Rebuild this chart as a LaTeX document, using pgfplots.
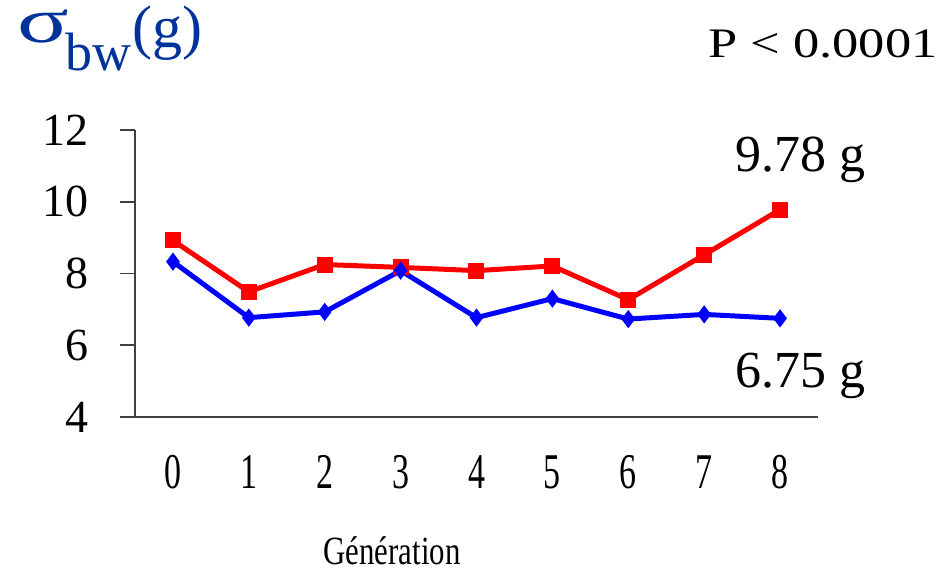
\documentclass[border=0pt]{standalone}
\usepackage{pgfplots}
\pgfplotsset{compat=1.18}
\usepackage{fontspec}
\setmainfont{Liberation Serif}
\usepackage{graphicx}
\definecolor{titleblue}{HTML}{003399}
\definecolor{axisgray}{HTML}{404040}
\begin{document}
\begin{tikzpicture}
\path[use as bounding box] (0pt,0pt) rectangle (943pt,-572pt);
\begin{axis}[
  at={(135pt,-417pt)}, anchor=south west,
  scale only axis, width=683pt, height=287pt,
  xmin=-0.5, xmax=8.5, ymin=4, ymax=12,
  axis x line=bottom, axis y line=left,
  axis line style={-, line width=1.6pt, axisgray},
  x axis line style={-}, y axis line style={-},
  xtick={0,1,2,3,4,5,6,7,8},
  xtick style={draw=none},
  ytick={4,6,8,10,12},
  tick align=outside,
  major tick length=15pt,
  ytick style={line width=1.6pt, axisgray},
  /pgf/number format/assume math mode=true,
  yticklabel style={font=\fontsize{46}{50}\selectfont, xshift=-28pt},
  xticklabel style={font=\fontsize{50}{54}\selectfont, yshift=-20pt},
  xticklabel={\scalebox{0.68}[1]{\pgfmathprintnumber{\tick}}},
  clip=false,
]
\addplot[color=red, line width=5pt, mark=square*, mark size=5.5pt, mark options={solid}]
coordinates {(0,8.92) (1,7.49) (2,8.25) (3,8.17) (4,8.08) (5,8.21) (6,7.27) (7,8.52) (8,9.78)};
\addplot[color=blue, line width=5pt, mark=diamond*, mark size=5pt, mark options={solid}]
coordinates {(0,8.33) (1,6.77) (2,6.93) (3,8.08) (4,6.77) (5,7.30) (6,6.73) (7,6.86) (8,6.75)};
\end{axis}
\node[anchor=base west, inner sep=0pt, text height=28pt, text=titleblue, font=\fontsize{44}{48}\selectfont] at (17pt,-43pt) {\scalebox{2.18}[1.45]{σ}};
\node[anchor=base west, inner sep=0pt, text height=30pt, text=titleblue, font=\fontsize{54}{60}\selectfont] at (65pt,-71pt) {bw};
\node[anchor=base west, inner sep=0pt, text height=30pt, text depth=10pt, text=titleblue, font=\fontsize{60}{66}\selectfont] at (132pt,-48pt) {(g)};
\node[anchor=base west, inner sep=0pt, font=\fontsize{42}{46}\selectfont] at (708pt,-58pt) {\scalebox{1.25}[1]{P < 0.0001}};
\node[anchor=base west, inner sep=0pt, font=\fontsize{52}{58}\selectfont] at (735pt,-172pt) {9.78 g};
\node[anchor=base west, inner sep=0pt, font=\fontsize{52}{58}\selectfont] at (735pt,-387pt) {6.75 g};
\node[anchor=base, inner sep=0pt, text depth=0pt, font=\fontsize{40}{44}\selectfont] at (392pt,-564pt) {\scalebox{0.77}[1]{Génération}};
\end{tikzpicture}
\end{document}
